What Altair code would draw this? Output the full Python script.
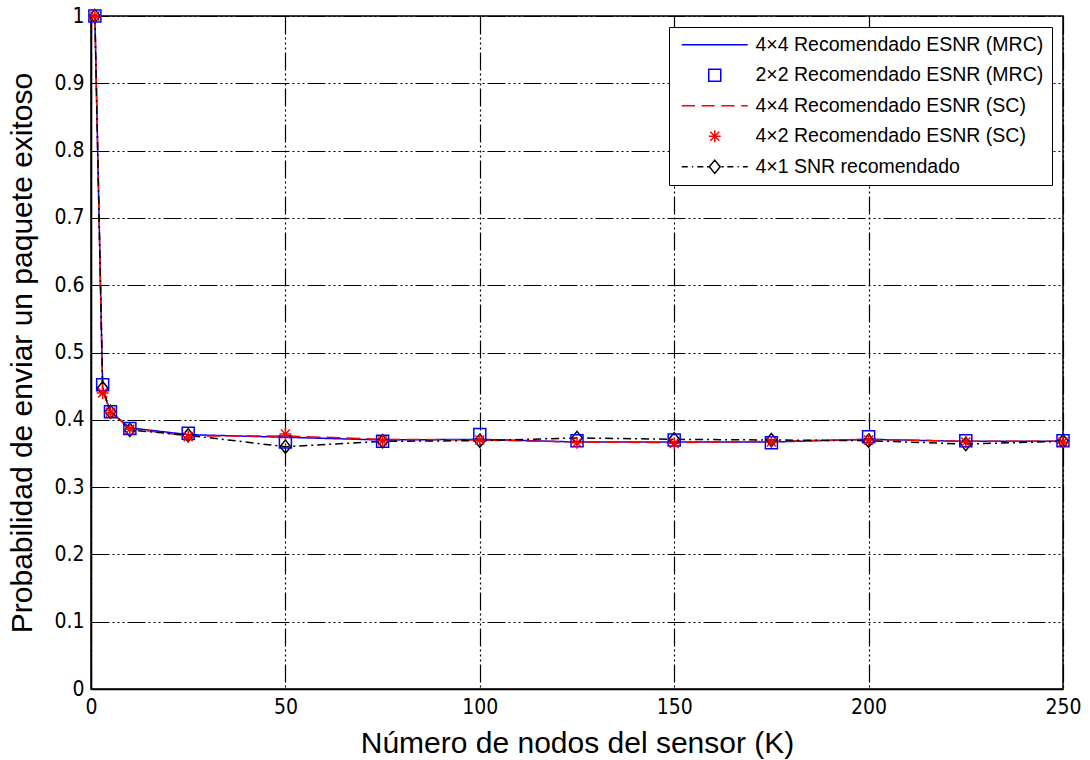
import altair as alt
import pandas as pd

# ---- data ----
K = [1, 3, 5, 10, 25, 50, 75, 100, 125, 150, 175, 200, 225, 250]
mrc_4x4 = [1.0, 0.445, 0.412, 0.388, 0.378, 0.374, 0.370, 0.371, 0.367, 0.367, 0.367, 0.371, 0.368, 0.368]
mrc_2x2 = [1.0, 0.452, 0.412, 0.387, 0.380, 0.367, 0.368, 0.378, 0.369, 0.370, 0.366, 0.375, 0.369, 0.369]
sc_4x4 = [1.0, 0.443, 0.412, 0.387, 0.376, 0.376, 0.371, 0.370, 0.367, 0.366, 0.368, 0.371, 0.368, 0.368]
sc_4x2 = [1.0, 0.440, 0.411, 0.386, 0.375, 0.379, 0.369, 0.370, 0.366, 0.365, 0.367, 0.370, 0.367, 0.367]
snr_4x1 = [1.0, 0.447, 0.412, 0.385, 0.377, 0.360, 0.368, 0.369, 0.373, 0.371, 0.370, 0.369, 0.364, 0.368]

series_names = [
    "4×4 Recomendado ESNR (MRC)",
    "2×2 Recomendado ESNR (MRC)",
    "4×4 Recomendado ESNR (SC)",
    "4×2 Recomendado ESNR (SC)",
    "4×1 SNR recomendado",
]
series_values = [mrc_4x4, mrc_2x2, sc_4x4, sc_4x2, snr_4x1]
series_colors = ["#0000ff", "#0000ff", "#ff0000", "#ff0000", "#000000"]

x_ticks = [0, 50, 100, 150, 200, 250]
y_ticks = [0, 0.1, 0.2, 0.3, 0.4, 0.5, 0.6, 0.7, 0.8, 0.9, 1]

line_series = [series_names[0], series_names[2], series_names[4]]
line_dashes = [[1, 0], [14, 6], [8, 4, 2, 4]]
marker_series = [series_names[1], series_names[3]]
diamond_series = [series_names[4]]

# legend / marker symbol paths (unit = sqrt(size)/2)
shape_paths = [
    "M-5.5,0H5.5",
    "M-1,-1H1V1H-1Z",
    "M-5.5,0H-3.3M-2.2,0H0M1.1,0H3.3M4.4,0H5.5",
    "M-1,0H1M0,-1V1M-0.75,-0.75L0.75,0.75M-0.75,0.75L0.75,-0.75",
    "M-5.5,0H-4.5M-3.8,0H-3.6M-2.9,0H-1.9M-1.3,0H-0.9M0,-1.1L0.9,0L0,1.1L-0.9,0ZM1.1,0H1.5M2.1,0H3.1M3.8,0H4.0M4.7,0H5.5",
]
diamond_path = "M0,-1.1L0.9,0L0,1.1L-0.9,0Z"

rows = []
for name, vals in zip(series_names, series_values):
    for k, v in zip(K, vals):
        rows.append({"K": k, "P": v, "series": name})
df = pd.DataFrame(rows)

font = "Liberation Sans"
tick_font = "Liberation Sans Narrow, DejaVu Sans Condensed, Liberation Sans"

x_enc = alt.X("K:Q", scale=alt.Scale(domain=[0, 250], nice=False),
              axis=alt.Axis(values=x_ticks, title="Número de nodos del sensor (K)"))
y_enc = alt.Y("P:Q", scale=alt.Scale(domain=[0, 1], nice=False),
              axis=alt.Axis(values=y_ticks, format="~g",
                            title="Probabilidad de enviar un paquete exitoso"))

legend = alt.Legend(
    title=None, orient="top-right", offset=11,
    symbolSize=144, symbolStrokeWidth=1.5, symbolOffset=28, labelOffset=31,
    labelFont=font, labelFontSize=19.5, labelColor="black", labelLimit=0,
    rowPadding=9.5, padding=8,
    strokeColor="black", fillColor="white",
)

color_enc = alt.Color("series:N", scale=alt.Scale(domain=series_names, range=series_colors),
                      legend=legend)

lines = alt.Chart(df).transform_filter(
    alt.FieldOneOfPredicate(field="series", oneOf=line_series)
).mark_line(strokeWidth=1.5).encode(
    x=x_enc, y=y_enc, color=color_enc,
    strokeDash=alt.StrokeDash("series:N", scale=alt.Scale(domain=line_series, range=line_dashes),
                              legend=None),
    detail="series:N",
)

diamonds = alt.Chart(df).transform_filter(
    alt.FieldOneOfPredicate(field="series", oneOf=diamond_series)
).mark_point(filled=False, size=144, strokeWidth=1.5, opacity=1, shape=diamond_path,
             color="black").encode(
    x=x_enc, y=y_enc,
)

points = alt.Chart(df).transform_filter(
    alt.FieldOneOfPredicate(field="series", oneOf=marker_series)
).mark_point(filled=False, size=144, strokeWidth=1.5, opacity=1).encode(
    x=x_enc, y=y_enc, color=color_enc,
    shape=alt.Shape("series:N", scale=alt.Scale(domain=series_names, range=shape_paths),
                    legend=legend),
)

chart = alt.layer(lines, diamonds, points).properties(
    width=972, height=673,
    autosize=alt.AutoSizeParams(type="none"),
    padding={"left": 91, "top": 16, "right": 27, "bottom": 71},
    background="white",
).configure_view(
    stroke="black", strokeWidth=1.5,
).configure_axis(
    grid=True, gridColor="black", gridOpacity=1, gridWidth=1.2, gridDash=[18, 3, 2, 3, 2, 3, 2, 3],
    domain=True, domainColor="black", domainWidth=1.5,
    ticks=False, labelFlush=False,
    labelFont=tick_font, labelFontSize=21, labelColor="black",
    titleFont=font, titleFontSize=30, titleFontWeight="normal", titleColor="black",
).configure_axisX(
    labelPadding=7, titlePadding=11,
).configure_axisY(
    labelPadding=7, titlePadding=16,
)

chart.save("out.html", embed_options={"renderer": "svg", "actions": False})
